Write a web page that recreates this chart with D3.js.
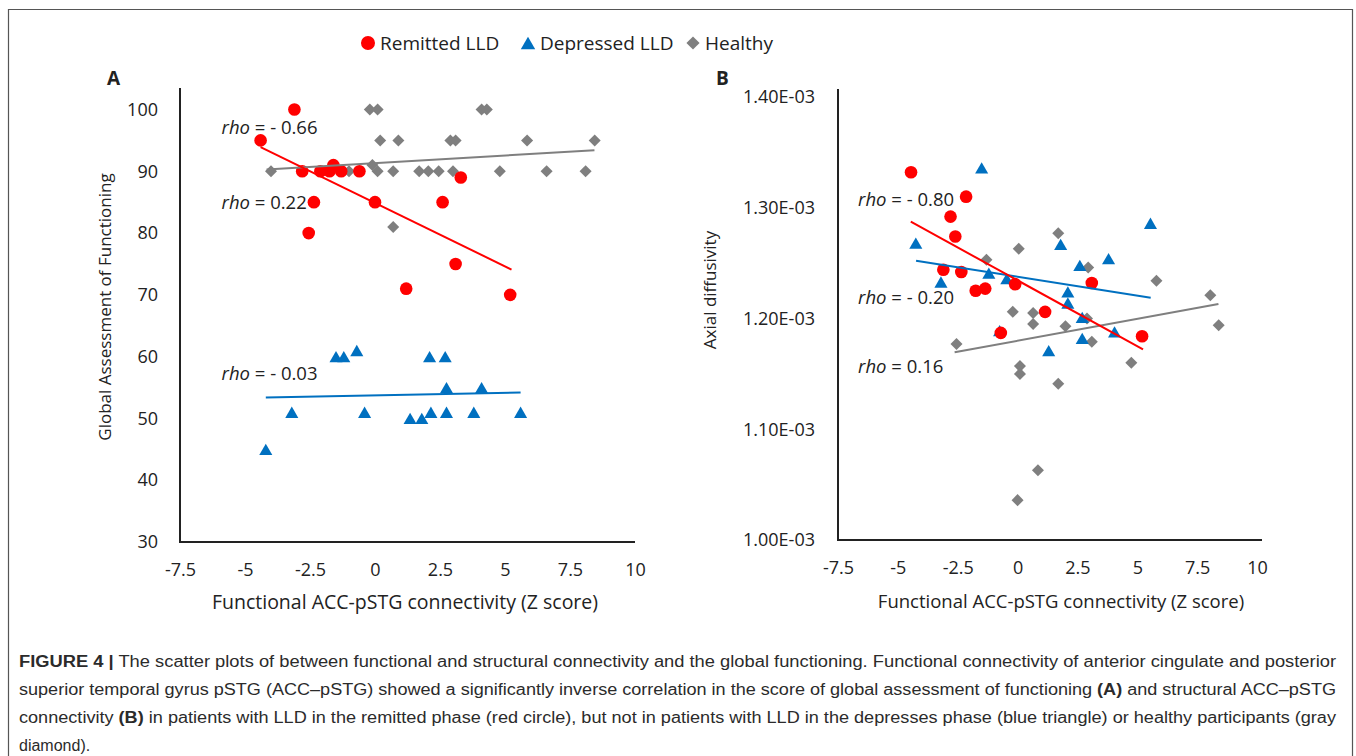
<!DOCTYPE html>
<html>
<head>
<meta charset="utf-8">
<script src="https://cdn.jsdelivr.net/npm/d3@7"></script>
<style>
  body { margin: 0; background: #fff; }
  .chart text { font-family: "Open Sans", "Noto Sans", sans-serif; fill: #222; }
  .caption text { font-family: "Liberation Sans", Arial, sans-serif; fill: #2b2b2b; }
</style>
</head>
<body>
<svg id="fig" width="1356" height="756"></svg>
<script>
// ---- data ----
// panel A: x = functional ACC-pSTG connectivity (Z), y = GAF
var remittedA = [[-3.1,100],[-4.4,95],[-2.8,90],[-2.1,90],[-1.75,90],[-1.6,91],[-1.3,90],[-0.6,90],
  [3.3,89],[-2.35,85],[0,85],[2.6,85],[-2.55,80],[3.1,75],[1.2,71],[5.2,70]];
var depressedA = [[-4.2,45],[-3.2,51],[-0.4,51],[-1.5,60],[-1.2,60],[-0.7,61],[2.1,60],[2.7,60],
  [2.75,55],[4.1,55],[1.35,50],[1.8,50],[2.15,51],[2.75,51],[3.8,51],[5.6,51]];
var healthyA = [[-0.2,100],[0.1,100],[4.1,100],[4.3,100],[0.2,95],[0.9,95],[2.9,95],[3.1,95],
  [5.85,95],[8.45,95],[-4.0,90],[-1.0,90],[-0.1,91],[0.1,90],[0.7,90],[1.7,90],[2.05,90],
  [2.45,90],[3.0,90],[4.8,90],[6.6,90],[8.1,90],[0.7,81]];
// trend lines [x0,y0,x1,y1]
var trendA = {remitted: [-4.4,93.9,5.25,74.1], depressed: [-4.2,53.4,5.6,54.2], healthy: [-4.17,90.3,8.44,93.4]};
var rhoA = [{x:-5.9, y:97.1, v:"- 0.66"}, {x:-5.9, y:85, v:"0.22"}, {x:-5.9, y:57.3, v:"- 0.03"}];

// panel B: y = axial diffusivity
var remittedB = [[-4.45,1.332e-3],[-2.15,1.310e-3],[-2.8,1.292e-3],[-2.6,1.274e-3],[-3.1,1.244e-3],
  [-2.35,1.242e-3],[-1.75,1.225e-3],[-1.35,1.227e-3],[-0.1,1.231e-3],[3.1,1.232e-3],[1.15,1.206e-3],
  [-0.7,1.187e-3],[5.2,1.184e-3]];
var depressedB = [[-1.5,1.336e-3],[5.55,1.286e-3],[-4.25,1.268e-3],[1.8,1.267e-3],[3.8,1.254e-3],
  [2.6,1.248e-3],[-1.2,1.241e-3],[-3.2,1.233e-3],[-0.45,1.236e-3],[2.1,1.224e-3],[2.1,1.214e-3],
  [2.7,1.201e-3],[2.7,1.182e-3],[4.05,1.188e-3],[1.3,1.171e-3],[-0.75,1.189e-3]];
var healthyB = [[1.7,1.277e-3],[0.05,1.263e-3],[-1.3,1.253e-3],[2.95,1.246e-3],[5.8,1.234e-3],
  [8.05,1.221e-3],[8.4,1.194e-3],[-0.2,1.206e-3],[0.65,1.205e-3],[0.65,1.195e-3],[2.0,1.193e-3],
  [2.9,1.200e-3],[3.1,1.179e-3],[-2.55,1.177e-3],[4.75,1.160e-3],[0.1,1.157e-3],[0.1,1.150e-3],
  [1.7,1.141e-3],[0.85,1.063e-3],[0.0,1.036e-3]];
var trendB = {remitted: [-4.46,1.2874e-3,5.24,1.1722e-3], depressed: [-4.24,1.2522e-3,5.56,1.2188e-3],
  healthy: [-2.63,1.1695e-3,8.39,1.2131e-3]};
var rhoB = [{x:-6.66, y:1.307e-3, v:"- 0.80"}, {x:-6.66, y:1.219e-3, v:"- 0.20"}, {x:-6.66, y:1.1565e-3, v:"0.16"}];

// ticks
var xTicks = [-7.5, -5, -2.5, 0, 2.5, 5, 7.5, 10];
var yTicksA = [30, 40, 50, 60, 70, 80, 90, 100];
var yTicksB = [1.0e-3, 1.1e-3, 1.2e-3, 1.3e-3, 1.4e-3];

var groups = [
  {key: "healthy", label: "Healthy", color: "#7f7f7f"},
  {key: "depressed", label: "Depressed LLD", color: "#0070c0"},
  {key: "remitted", label: "Remitted LLD", color: "#ff0000"}
];

var captionLines = [
  [["FIGURE 4 |", true], [" The scatter plots of between functional and structural connectivity and the global functioning. Functional connectivity of anterior cingulate and posterior", false]],
  [["superior temporal gyrus pSTG (ACC\u2013pSTG) showed a significantly inverse correlation in the score of global assessment of functioning ", false], ["(A)", true], [" and structural ACC\u2013pSTG", false]],
  [["connectivity ", false], ["(B)", true], [" in patients with LLD in the remitted phase (red circle), but not in patients with LLD in the depresses phase (blue triangle) or healthy participants (gray", false]],
  [["diamond).", false]]
];

// ---- drawing ----
var svg = d3.select("#fig");
svg.append("rect").attr("width", 1356).attr("height", 756).attr("fill", "#fff");
// figure frame (bottom edge runs off the page)
svg.append("path").attr("d", "M8.5,770V9.5H1352.5V770").attr("fill", "none")
  .attr("stroke", "#555").attr("stroke-width", 1.2);

var chart = svg.append("g").attr("class", "chart");

var symbols = {
  remitted: d3.symbol(d3.symbolCircle, 125),
  depressed: d3.symbol(d3.symbolTriangle, 74),
  healthy: d3.symbol(d3.symbolDiamond2, 92)
};
var symOffset = {remitted: 0, depressed: 1.9, healthy: 0};

function panel(opt) {
  var x = d3.scaleLinear().domain([-7.5, 10]).range(opt.xRange);
  var y = d3.scaleLinear().domain(opt.yDomain).range(opt.yRange);
  var g = chart.append("g");

  // axis lines
  g.append("path")
    .attr("d", "M" + x.range()[0] + "," + opt.top + "V" + y.range()[0] + "H" + (x.range()[1] + opt.extra))
    .attr("fill", "none").attr("stroke", "#222").attr("stroke-width", 2);

  var xAxis = g.append("g").attr("transform", "translate(0," + (y.range()[0] + 28) + ")")
    .call(d3.axisBottom(x).tickValues(xTicks).tickSize(0).tickPadding(0).tickFormat(function (d) { return d; }));
  xAxis.select(".domain").remove();
  xAxis.selectAll("text").attr("dy", "0.35em").attr("font-size", 18).attr("font-family", null);

  var yAxis = g.append("g").attr("transform", "translate(" + (x.range()[0] - opt.yPad) + ",0)")
    .call(d3.axisLeft(y).tickValues(opt.yTicks).tickSize(0).tickPadding(0).tickFormat(opt.yFormat));
  yAxis.select(".domain").remove();
  yAxis.selectAll("text").attr("font-size", 18).attr("font-family", null);

  // markers
  groups.forEach(function (grp) {
    g.append("g").selectAll("path").data(opt.data[grp.key]).enter().append("path")
      .attr("d", symbols[grp.key])
      .attr("transform", function (d) { return "translate(" + x(d[0]) + "," + (y(d[1]) + symOffset[grp.key]) + ")"; })
      .attr("fill", grp.color);
  });

  // trend lines
  groups.forEach(function (grp) {
    var t = opt.trend[grp.key];
    g.append("line")
      .attr("x1", x(t[0])).attr("y1", y(t[1])).attr("x2", x(t[2])).attr("y2", y(t[3]))
      .attr("stroke", grp.color).attr("stroke-width", 2);
  });

  // rho labels
  var lab = g.selectAll(".rho").data(opt.rho).enter().append("text")
    .attr("class", "rho")
    .attr("x", function (d) { return x(d.x); })
    .attr("y", function (d) { return y(d.y); })
    .attr("dy", "0.35em").attr("font-size", 18.5);
  lab.append("tspan").attr("font-style", "italic").text("rho");
  lab.append("tspan").text(function (d) { return " = " + d.v; });

  // titles
  g.append("text").attr("x", opt.xTitle[0]).attr("y", opt.xTitle[1]).attr("dy", "0.35em")
    .attr("text-anchor", "middle").attr("font-size", opt.xTitleSize).text("Functional ACC-pSTG connectivity (Z score)");
  g.append("text").attr("transform", "translate(" + opt.yTitle[0] + "," + opt.yTitle[1] + ") rotate(-90)")
    .attr("dy", "0.35em").attr("text-anchor", "middle").attr("font-size", 17).text(opt.yLabel);

  g.append("text").attr("x", opt.letter[0]).attr("y", opt.letter[1])
    .attr("font-family", "Liberation Sans, Arial, sans-serif").attr("font-weight", "bold")
    .attr("font-size", 19).text(opt.name);
}

panel({
  name: "A", letter: [107, 85],
  data: {remitted: remittedA, depressed: depressedA, healthy: healthyA},
  trend: trendA, rho: rhoA,
  xRange: [180, 635], yRange: [542, 109.5], yDomain: [30, 100], top: 88, extra: 0,
  yTicks: yTicksA, yFormat: function (d) { return d; }, yPad: 22,
  xTitle: [405, 602], xTitleSize: 19.5, yTitle: [105, 307], yLabel: "Global Assessment of Functioning"
});

panel({
  name: "B", letter: [716, 85],
  data: {remitted: remittedB, depressed: depressedB, healthy: healthyB},
  trend: trendB, rho: rhoB,
  xRange: [838, 1257], yRange: [540, 97], yDomain: [1.0e-3, 1.4e-3], top: 89, extra: 5,
  yTicks: yTicksB, yFormat: function (d) { return (d * 1000).toFixed(2) + "E-03"; }, yPad: 23,
  xTitle: [1061, 602], xTitleSize: 18.5, yTitle: [710, 290], yLabel: "Axial diffusivity"
});

// legend
var legendItems = groups.slice().reverse();
var legendX = [368, 528, 693];
var leg = chart.append("g").attr("transform", "translate(0,43)");
legendItems.forEach(function (grp, i) {
  leg.append("path")
    .attr("d", d3.symbol(symbols[grp.key].type(), grp.key === "remitted" ? 154 : grp.key === "depressed" ? 90 : 110))
    .attr("transform", "translate(" + legendX[i] + "," + (grp.key === "depressed" ? 2 : 0) + ")")
    .attr("fill", grp.color);
  leg.append("text").attr("x", legendX[i] + 12).attr("dy", "0.35em").attr("font-size", 19).text(grp.label);
});

// caption
var cap = svg.append("g").attr("class", "caption");
captionLines.forEach(function (line, i) {
  var t = cap.append("text").attr("x", 19).attr("y", 667 + i * 28).attr("font-size", 16);
  if (i < 3) t.attr("textLength", 1317).attr("lengthAdjust", "spacingAndGlyphs");
  line.forEach(function (part) {
    t.append("tspan").attr("font-weight", part[1] ? "bold" : null).text(part[0]);
  });
});
</script>
</body>
</html>
